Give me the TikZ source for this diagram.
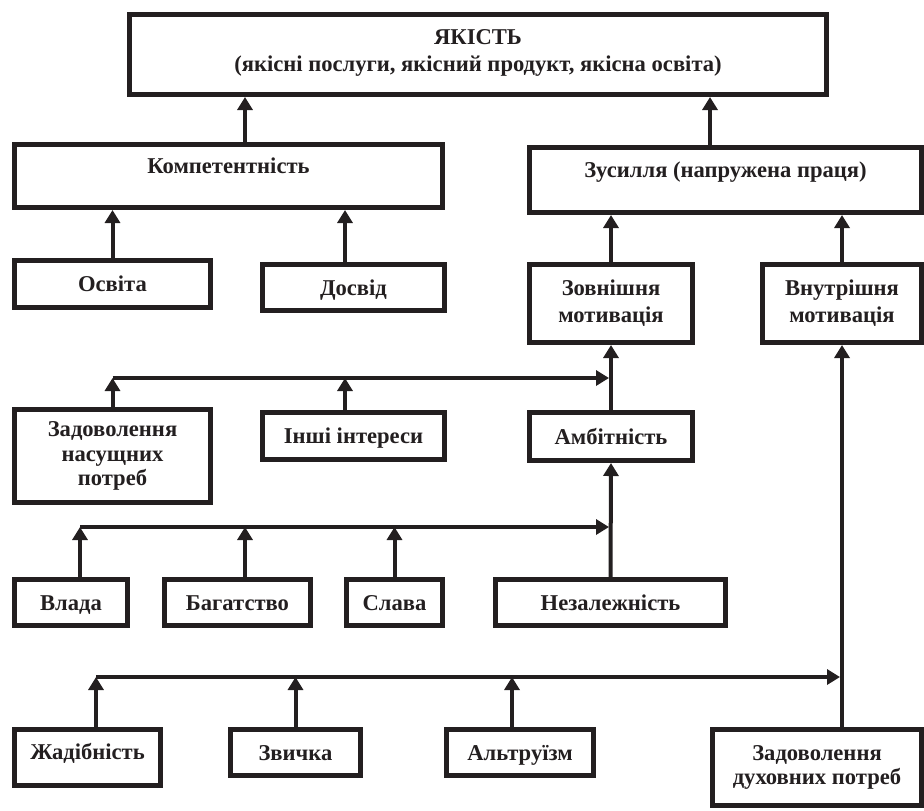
\documentclass[tikz,border=0pt]{standalone}
\usepackage{fontspec}
\setmainfont{Liberation Serif}
\usepackage{xcolor}
\usepackage{tikz}
\usetikzlibrary{arrows.meta,positioning,calc}
\definecolor{Ink}{HTML}{231F20}

\begin{document}
\begin{tikzpicture}[
      x=0.5pt, y=-0.5pt, >={Triangle[length=6.5pt,width=7.5pt]},
      font=\bfseries\fontsize{11.3}{12.3}\selectfont, text=Ink,
      mbox/.style={rectangle, draw=Ink, line width=2.5pt, fill=white,
                   align=center, inner sep=2pt, minimum height=23pt},
      fbox/.style={mbox, text height=8pt, text depth=0.5pt},
      tbox/.style={mbox, text height=8pt, text depth=#1},
      a/.style={->, line width=2pt, draw=Ink},
    ]
      \useasboundingbox (0,0) rectangle (924,810);

      \node[mbox, text depth=4pt, minimum width=348.5pt, minimum height=40pt] (kist) at (478,54.5)
            {ЯКІСТЬ\\[1.2pt](якісні послуги, якісний продукт, якісна освіта)};

      \node[tbox=10.8pt, minimum width=214pt, minimum height=31.5pt] (komp) at (228.5,176) {Компетентність};
      \node[tbox=11pt, minimum width=196pt, minimum height=32.5pt] (zus) at (725.5,180)
            {Зусилля (напружена праця)};

      \node[fbox, minimum width=98pt, minimum height=23.5pt] (osv) at (112.5,284) {Освіта};
      \node[fbox, minimum width=91pt] (dosv) at (353.5,287.5) {Досвід};
      \node[mbox, minimum width=81.5pt, minimum height=39pt] (zovn) at (611,303.5) {Зовнішня\\[1.2pt]мотивація};
      \node[mbox, minimum width=79.5pt, minimum height=39pt] (vnutr) at (842,303.5) {Внутрішня\\[1.2pt]мотивація};

      \node[mbox, minimum width=98pt, minimum height=46.5pt] (potr) at (112.5,456)
            {Задоволення\\насущних\\потреб};
      \node[fbox, minimum width=91pt, minimum height=23.5pt] (inter) at (353.5,436) {Інші інтереси};
      \node[fbox, minimum width=81.5pt, minimum height=24pt] (amb) at (611,436.5) {Амбітність};

      \node[fbox, minimum width=56.5pt] (vlada) at (71,602.5) {Влада};
      \node[fbox, minimum width=73pt] (bagat) at (237.5,602.5) {Багатство};
      \node[fbox, minimum width=48pt] (slava) at (394.5,602.5) {Слава};
      \node[fbox, minimum width=115pt] (nezal) at (610.5,602.5) {Незалежність};

      \node[tbox=6.5pt, minimum width=73pt, minimum height=28pt] (zhad) at (87.5,757.5) {Жадібність};
      \node[fbox, minimum width=65pt] (zvych) at (295.5,752.5) {Звичка};
      \node[fbox, minimum width=73.5pt] (altr) at (520,752.5) {Альтруїзм};
      \node[mbox, minimum width=104.5pt, minimum height=38pt] (dukh) at (817,767.5)
            {Задоволення\\духовних потреб};

      % junctions on the horizontal lines
      \coordinate (j1) at (611,378);
      \coordinate (j2) at (611,527);
      \coordinate (j3) at (842,677);

      \draw[a] ([xshift=8.25pt]komp.north) -- ([xshift=8.25pt]komp.north |- kist.south);
      \draw[a] ([xshift=-7.75pt]zus.north) -- ([xshift=-7.75pt]zus.north |- kist.south);
      \draw[a] (osv.north) -- (osv.north |- komp.south);
      \draw[a] ([xshift=-4.25pt]dosv.north) -- ([xshift=-4.25pt]dosv.north |- komp.south);
      \draw[a] (zovn.north) -- (zovn.north |- zus.south);
      \draw[a] (vnutr.north) -- (vnutr.north |- zus.south);

      \draw[a] (amb.north) -- (zovn.south);
      \draw[a] (potr.north) -- (potr.north |- j1);
      \draw[a] ([xshift=-4.25pt]inter.north) -- ([xshift=-4.25pt]inter.north |- j1);
      \draw[a, shorten >=1pt] (potr.north |- j1) -- (j1);

      \draw[a] (nezal.north) -- (amb.south);
      \draw[a] ([xshift=4.5pt]vlada.north) -- ([xshift=4.5pt]vlada.north |- j2);
      \draw[a] ([xshift=3.75pt]bagat.north) -- ([xshift=3.75pt]bagat.north |- j2);
      \draw[a] (slava.north) -- (slava.north |- j2);
      \draw[a, shorten >=1pt] ([xshift=4.5pt]vlada.north |- j2) -- (j2);

      \draw[a] (vnutr.south |- dukh.north) -- (vnutr.south);
      \draw[a] ([xshift=4.25pt]zhad.north) -- ([xshift=4.25pt]zhad.north |- j3);
      \draw[a] (zvych.north) -- (zvych.north |- j3);
      \draw[a] ([xshift=-4pt]altr.north) -- ([xshift=-4pt]altr.north |- j3);
      \draw[a, shorten >=1pt] ([xshift=4.25pt]zhad.north |- j3) -- (j3);
    \end{tikzpicture}
\end{document}
